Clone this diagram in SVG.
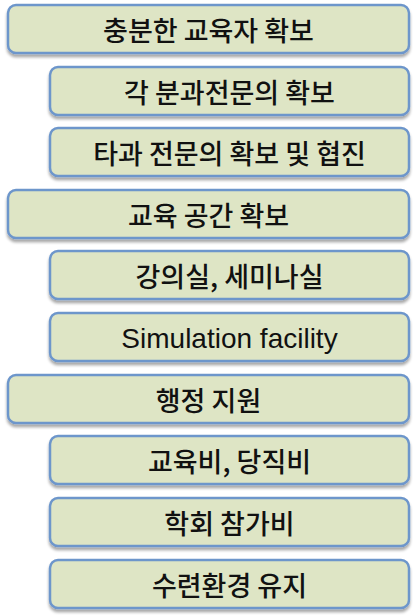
<svg xmlns="http://www.w3.org/2000/svg" width="414" height="615" viewBox="0 0 414 615">
<defs>
<filter id="sh" x="-5%" y="-20%" width="110%" height="150%">
<feGaussianBlur in="SourceAlpha" stdDeviation="1.6"/>
<feOffset dx="0" dy="2.5" result="b"/>
<feComponentTransfer><feFuncA type="linear" slope="0.35"/></feComponentTransfer>
<feMerge><feMergeNode/><feMergeNode in="SourceGraphic"/></feMerge>
</filter>
</defs>
<style>
.box{fill:#dee5c5;stroke:#6d96cb;stroke-width:2.5;filter:url(#sh)}
.t{font-family:"Noto Sans CJK KR","Liberation Sans",sans-serif;font-size:27px;font-weight:500;fill:#111;text-anchor:middle}
.e{font-family:"Liberation Sans",Arial,sans-serif;font-size:28px;fill:#111;text-anchor:middle}
</style>
<rect width="414" height="615" fill="#ffffff"/>
<g id="n1"><rect class="box" x="8" y="5" width="401" height="48" rx="8"/><text class="t" x="208.5" y="41">충분한 교육자 확보</text></g>
<g id="n2"><rect class="box" x="50" y="67" width="359" height="48" rx="8"/><text class="t" x="229.5" y="103">각 분과전문의 확보</text></g>
<g id="n3"><rect class="box" x="50" y="128" width="359" height="48" rx="8"/><text class="t" x="229.5" y="164">타과 전문의 확보 및 협진</text></g>
<g id="n4"><rect class="box" x="8" y="190" width="401" height="48" rx="8"/><text class="t" x="208.5" y="226">교육 공간 확보</text></g>
<g id="n5"><rect class="box" x="50" y="251" width="359" height="48" rx="8"/><text class="t" x="229.5" y="287">강의실, 세미나실</text></g>
<g id="n6"><rect class="box" x="50" y="313" width="359" height="48" rx="8"/><text class="e" x="229.5" y="348">Simulation facility</text></g>
<g id="n7"><rect class="box" x="8" y="375" width="401" height="48" rx="8"/><text class="t" x="208.5" y="411">행정 지원</text></g>
<g id="n8"><rect class="box" x="50" y="436" width="359" height="48" rx="8"/><text class="t" x="229.5" y="472">교육비, 당직비</text></g>
<g id="n9"><rect class="box" x="50" y="498" width="359" height="48" rx="8"/><text class="t" x="229.5" y="534">학회 참가비</text></g>
<g id="n10"><rect class="box" x="50" y="560" width="359" height="48" rx="8"/><text class="t" x="229.5" y="596">수련환경 유지</text></g>
<g id="connectors"></g>
</svg>
